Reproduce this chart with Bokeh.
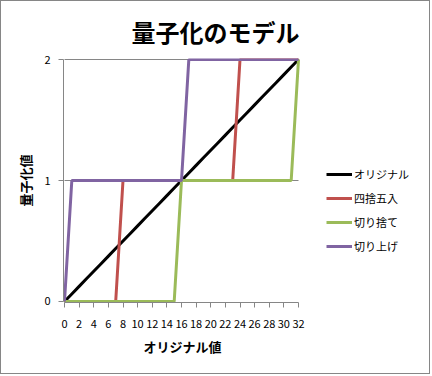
from bokeh.plotting import figure
from bokeh.models import FixedTicker, Legend, LegendItem, Range1d, Title
from bokeh.embed import file_html
from bokeh.resources import INLINE

x_values = list(range(0, 33))
original = [0, 0.0625, 0.125, 0.1875, 0.25, 0.3125, 0.375, 0.4375, 0.5, 0.5625, 0.625,
            0.6875, 0.75, 0.8125, 0.875, 0.9375, 1, 1.0625, 1.125, 1.1875, 1.25, 1.3125,
            1.375, 1.4375, 1.5, 1.5625, 1.625, 1.6875, 1.75, 1.8125, 1.875, 1.9375, 2]
rounded = [0, 0, 0, 0, 0, 0, 0, 0, 1, 1, 1, 1, 1, 1, 1, 1, 1, 1, 1, 1, 1, 1, 1, 1,
           2, 2, 2, 2, 2, 2, 2, 2, 2]
floored = [0, 0, 0, 0, 0, 0, 0, 0, 0, 0, 0, 0, 0, 0, 0, 0, 1, 1, 1, 1, 1, 1, 1, 1,
           1, 1, 1, 1, 1, 1, 1, 1, 2]
ceiled = [0, 1, 1, 1, 1, 1, 1, 1, 1, 1, 1, 1, 1, 1, 1, 1, 1, 2, 2, 2, 2, 2, 2, 2,
          2, 2, 2, 2, 2, 2, 2, 2, 2]
series_names = ["オリジナル", "四捨五入", "切り捨て", "切り上げ"]
series_colors = ["#000000", "#C0504D", "#9BBB59", "#8064A2"]
x_ticks = list(range(0, 33, 2))
y_ticks = [0, 1, 2]

FONT = "Noto Sans CJK JP"

# frame extends to the right to host the legend; axes are bounded to the data span
p = figure(width=430, height=374, output_backend="svg", toolbar_location=None,
           x_range=Range1d(-0.137, 49.23), y_range=Range1d(-0.0083, 2.0083),
           min_border_left=62, min_border_right=7, min_border_top=57, min_border_bottom=73,
           title="量子化のモデル", styles={"border": "1px solid #868686"})

p.title.text_font = FONT
p.title.text_font_size = "24px"
p.title.text_font_style = "bold"
p.title.text_color = "#000000"
p.title.align = "left"
p.title.offset = 68
p.title.standoff = 16
p.title.vertical_align = "top"

p.outline_line_color = None
p.xgrid.visible = False
p.ygrid.visible = False

for ax in (p.xaxis[0], p.yaxis[0]):
    ax.axis_line_color = "#868686"
    ax.major_tick_line_color = "#868686"
    ax.major_tick_in = 0
    ax.major_tick_out = 5
    ax.minor_tick_line_color = None
    ax.major_label_text_font = FONT
    ax.major_label_text_font_size = "11px"
    ax.major_label_text_color = "#000000"
    ax.axis_label_text_font = FONT
    ax.axis_label_text_font_size = "13px"
    ax.axis_label_text_font_style = "bold"
    ax.axis_label_text_color = "#000000"

p.xaxis.ticker = FixedTicker(ticks=x_ticks)
p.yaxis.ticker = FixedTicker(ticks=y_ticks)
p.xaxis.bounds = (x_ticks[0], x_ticks[-1])
p.yaxis.bounds = (y_ticks[0], y_ticks[-1])
p.yaxis.axis_label = "量子化値"
p.xaxis.major_label_standoff = 12
p.yaxis.major_label_standoff = 8
p.yaxis.axis_label_standoff = 6

# x-axis title, positioned under the data span
p.add_layout(Title(text="オリジナル値", align="left", offset=80, standoff=8,
                   text_font=FONT, text_font_size="13px", text_font_style="bold",
                   text_color="#000000"), "below")

# horizontal gridlines over the data span
grid_y = y_ticks[1:]
p.segment(x0=[x_ticks[0]] * len(grid_y), x1=[x_ticks[-1]] * len(grid_y),
          y0=grid_y, y1=grid_y, line_color="#868686", line_width=1)

renderers = []
for ys, color in zip([original, rounded, floored, ceiled], series_colors):
    r = p.line(x_values, ys, line_color=color, line_width=3)
    renderers.append(r)

legend = Legend(items=[LegendItem(label=n, renderers=[r]) for n, r in zip(series_names, renderers)],
                location=(263, 46), glyph_width=26, glyph_height=20, label_height=20, spacing=4,
                label_text_font=FONT, label_text_font_size="11px", label_standoff=2,
                label_text_color="#000000",
                border_line_color=None, background_fill_alpha=0, padding=0, margin=0)
p.add_layout(legend, "center")

open("out.html", "w").write(file_html(p, INLINE))
